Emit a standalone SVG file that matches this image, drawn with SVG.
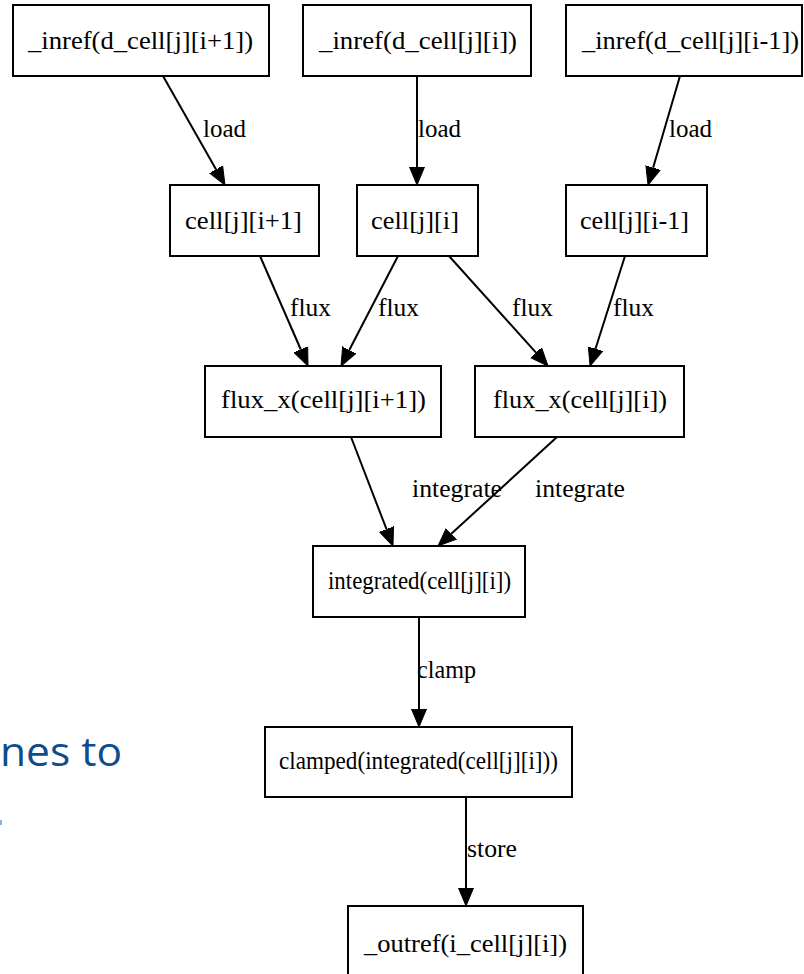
<svg xmlns="http://www.w3.org/2000/svg" width="804" height="974" viewBox="0 0 804 974">
<style>
.node rect{fill:#fff;stroke:#000;stroke-width:2}
.node text{font-family:"Liberation Serif","Times New Roman",serif;font-size:26px;fill:#000;text-anchor:middle}
.edges line{stroke:#000;stroke-width:2}
.lbl{font-family:"Liberation Serif","Times New Roman",serif;font-size:26px;fill:#000}
.blue{font-family:"Open Sans","Noto Sans",sans-serif;font-size:40px;fill:#104c8c}
</style>
<defs>
<marker id="ah" markerUnits="userSpaceOnUse" markerWidth="20" markerHeight="18" refX="0" refY="8" orient="auto" viewBox="0 0 20 16">
<path d="M0,0.5 L18,8 L0,15.5 Z" fill="#000" stroke="#000" stroke-width="1"/>
</marker>
</defs>
<rect width="804" height="974" fill="#fff"/>
<g id="bg-text">
<text class="blue" x="0" y="766" textLength="122" lengthAdjust="spacingAndGlyphs">nes to</text>
<rect x="0" y="820" width="2" height="5" fill="#8fb0d6"/>
</g>
<g class="edges" id="connectors">
<line x1="163" y1="76" x2="216.1" y2="169.4" marker-end="url(#ah)"/>
<line x1="417" y1="76" x2="417" y2="167" marker-end="url(#ah)"/>
<line x1="680" y1="76" x2="653.1" y2="167.7" marker-end="url(#ah)"/>
<line x1="260" y1="256" x2="300.8" y2="349.5" marker-end="url(#ah)"/>
<line x1="398" y1="256" x2="349.3" y2="350" marker-end="url(#ah)"/>
<line x1="449" y1="256" x2="536" y2="352.6" marker-end="url(#ah)"/>
<line x1="625" y1="256" x2="595.5" y2="348.8" marker-end="url(#ah)"/>
<line x1="351" y1="437" x2="386.5" y2="529.2" marker-end="url(#ah)"/>
<line x1="557" y1="437" x2="451.3" y2="533.8" marker-end="url(#ah)"/>
<line x1="419" y1="617" x2="419" y2="709" marker-end="url(#ah)"/>
<line x1="466" y1="797" x2="466" y2="888" marker-end="url(#ah)"/>
<text class="lbl" x="203" y="137" textLength="43" lengthAdjust="spacingAndGlyphs">load</text>
<text class="lbl" x="418" y="137" textLength="43" lengthAdjust="spacingAndGlyphs">load</text>
<text class="lbl" x="669" y="137" textLength="43" lengthAdjust="spacingAndGlyphs">load</text>
<text class="lbl" x="290" y="316" textLength="41" lengthAdjust="spacingAndGlyphs">flux</text>
<text class="lbl" x="378" y="316" textLength="41" lengthAdjust="spacingAndGlyphs">flux</text>
<text class="lbl" x="512" y="316" textLength="41" lengthAdjust="spacingAndGlyphs">flux</text>
<text class="lbl" x="613" y="316" textLength="41" lengthAdjust="spacingAndGlyphs">flux</text>
<text class="lbl" x="412" y="497" textLength="90" lengthAdjust="spacingAndGlyphs">integrate</text>
<text class="lbl" x="535" y="497" textLength="90" lengthAdjust="spacingAndGlyphs">integrate</text>
<text class="lbl" x="417" y="678" textLength="59" lengthAdjust="spacingAndGlyphs">clamp</text>
<text class="lbl" x="467" y="857" textLength="50" lengthAdjust="spacingAndGlyphs">store</text>
</g>
<g class="node" id="n_inref_ip1"><rect x="13" y="5" width="256" height="71"/><text x="140.5" y="49" textLength="225" lengthAdjust="spacingAndGlyphs">_inref(d_cell[j][i+1])</text></g>
<g class="node" id="n_inref_i"><rect x="303" y="5" width="228" height="71"/><text x="418" y="49" textLength="198" lengthAdjust="spacingAndGlyphs">_inref(d_cell[j][i])</text></g>
<g class="node" id="n_inref_im1"><rect x="566" y="5" width="236" height="71"/><text x="690.5" y="49" textLength="217" lengthAdjust="spacingAndGlyphs">_inref(d_cell[j][i-1])</text></g>
<g class="node" id="n_cell_ip1"><rect x="170" y="185" width="149" height="71"/><text x="243.5" y="229" textLength="117" lengthAdjust="spacingAndGlyphs">cell[j][i+1]</text></g>
<g class="node" id="n_cell_i"><rect x="357" y="185" width="121" height="71"/><text x="415" y="229" textLength="88" lengthAdjust="spacingAndGlyphs">cell[j][i]</text></g>
<g class="node" id="n_cell_im1"><rect x="566" y="185" width="141" height="71"/><text x="634.5" y="229" textLength="109" lengthAdjust="spacingAndGlyphs">cell[j][i-1]</text></g>
<g class="node" id="n_flux_ip1"><rect x="205" y="366" width="236" height="71"/><text x="323.5" y="408" textLength="205" lengthAdjust="spacingAndGlyphs">flux_x(cell[j][i+1])</text></g>
<g class="node" id="n_flux_i"><rect x="475" y="366" width="209" height="71"/><text x="580" y="408" textLength="174" lengthAdjust="spacingAndGlyphs">flux_x(cell[j][i])</text></g>
<g class="node" id="n_integrated"><rect x="313" y="546" width="212" height="71"/><text x="419.5" y="589" textLength="183" lengthAdjust="spacingAndGlyphs">integrated(cell[j][i])</text></g>
<g class="node" id="n_clamped"><rect x="265" y="727" width="307" height="70"/><text x="418.5" y="769" textLength="279" lengthAdjust="spacingAndGlyphs">clamped(integrated(cell[j][i]))</text></g>
<g class="node" id="n_outref"><rect x="348" y="906" width="235" height="71"/><text x="465.5" y="952" textLength="203" lengthAdjust="spacingAndGlyphs">_outref(i_cell[j][i])</text></g>
</svg>
